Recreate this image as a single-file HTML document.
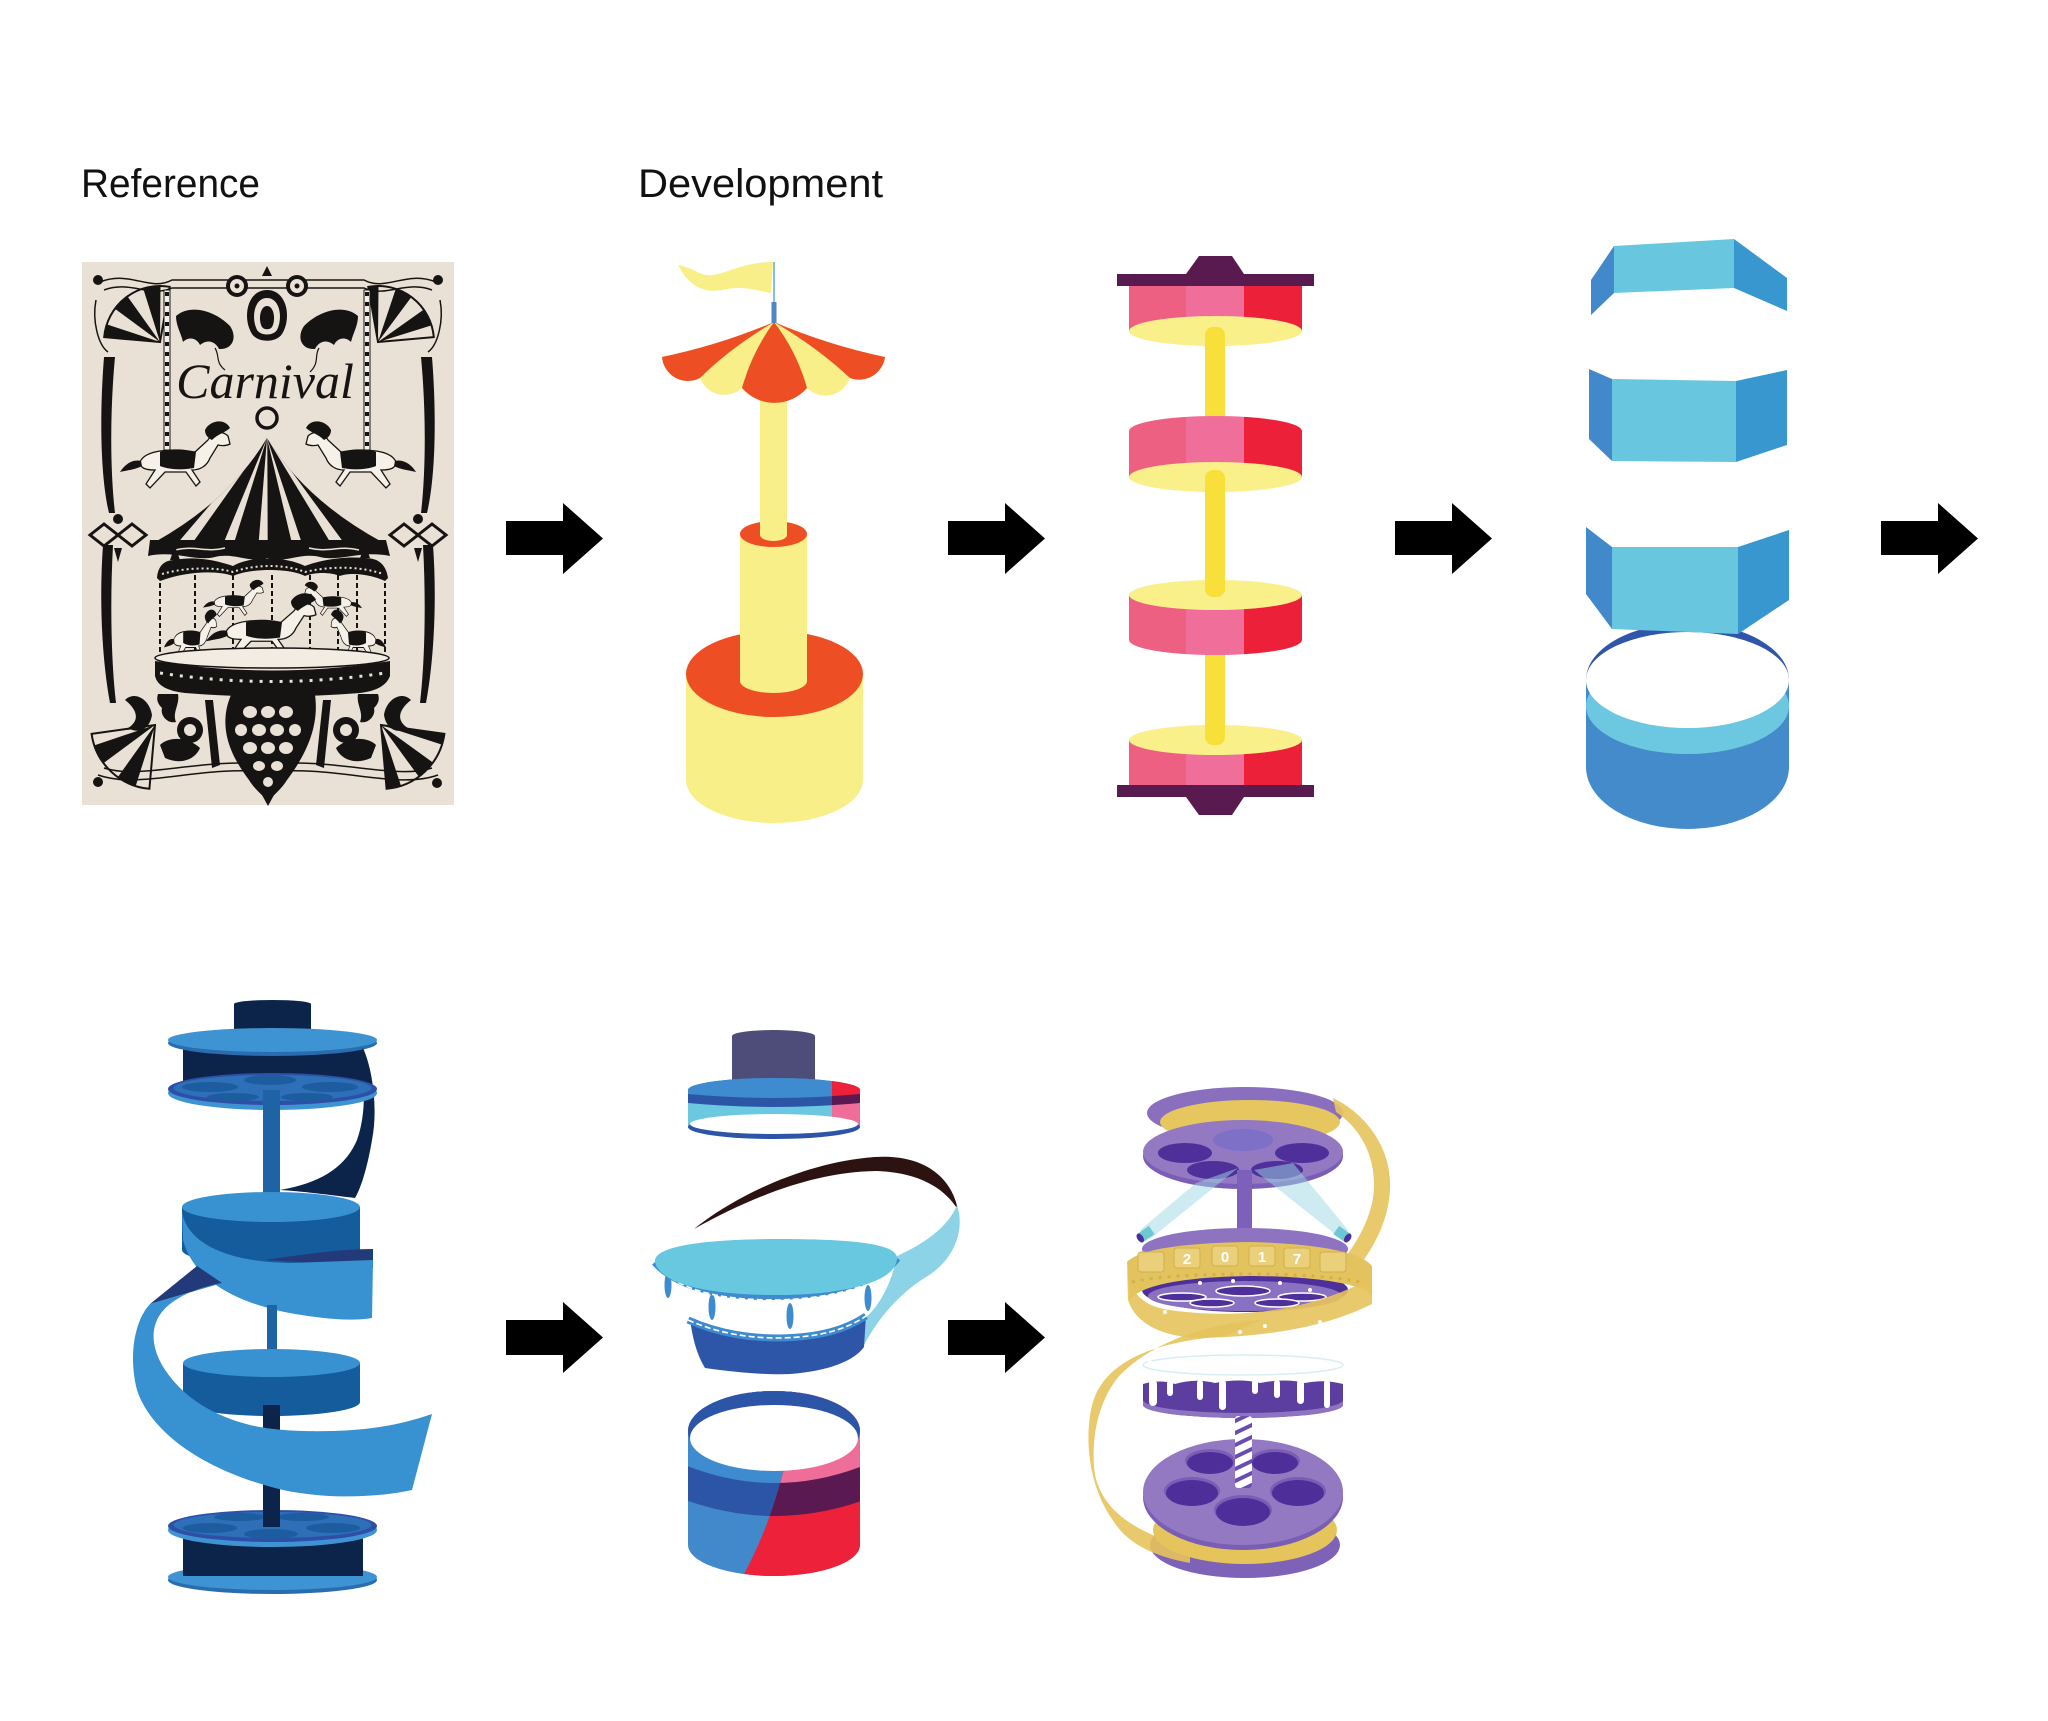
<!DOCTYPE html>
<html><head><meta charset="utf-8"><style>
html,body{margin:0;padding:0;background:#fff;}
svg{display:block;}
</style></head><body>
<svg width="2048" height="1721" viewBox="0 0 2048 1721" xmlns="http://www.w3.org/2000/svg">
<defs>
<linearGradient id="pk" gradientUnits="userSpaceOnUse" x1="1129" y1="0" x2="1302" y2="0">
<stop offset="0.33" stop-color="#EE6082"/><stop offset="0.33" stop-color="#EF6E9A"/>
<stop offset="0.665" stop-color="#EF6E9A"/><stop offset="0.665" stop-color="#EC2139"/>
</linearGradient>
<clipPath id="f1"><path d="M160,342 L104.2,337.1 A56,56 0 0 1 169.7,286.8 Z"/></clipPath>
<clipPath id="f2"><path d="M378,342 L368.3,286.8 A56,56 0 0 1 433.8,337.1 Z"/></clipPath>
<clipPath id="f3"><path d="M155,725 L149.4,788.8 A64,64 0 0 1 91.6,733.9 Z"/></clipPath>
<clipPath id="f4"><path d="M381,725 L444.4,733.9 A64,64 0 0 1 386.6,788.8 Z"/></clipPath>
<clipPath id="tent"><path d="M267,438 Q230,500 155,542 L382,542 Q305,500 267,438 Z"/></clipPath>
<clipPath id="ring1"><path d="M688,1090 A86,12 0 0 1 860,1090 L860,1128 L688,1128 Z"/></clipPath>
<clipPath id="ring1r"><rect x="832" y="1060" width="40" height="90"/></clipPath>
<clipPath id="cyl2"><path d="M688,1431 A86,40 0 0 1 860,1431 L860,1545 A86,31 0 0 1 688,1545 Z"/></clipPath>
<clipPath id="cyl2r"><path d="M790,1380 L880,1380 L880,1610 L724,1610 C750,1565 775,1520 790,1440 Z"/></clipPath>
<clipPath id="candy"><rect x="1235" y="1416" width="17" height="72" rx="3"/></clipPath>
<g id="horse">
<path d="M20,44 C25,32 50,30 75,34 L88,22 C92,14 102,12 108,18 L110,26 C106,28 102,28 98,27 L90,40 C87,48 80,52 72,52 L80,64 L76,68 L66,54 L45,54 L30,70 L26,66 L35,52 C25,52 20,50 20,44 Z" fill="#F5F0E8" stroke="#161412" stroke-width="1.3"/>
<path d="M85,12 C90,2 105,0 110,10 C106,14 98,16 92,22 C88,20 85,17 85,12 Z" fill="#161412"/>
<path d="M40,34 C50,30 65,31 76,34 L74,50 C63,52 50,52 40,48 Z" fill="#161412"/>
<path d="M21,43 C13,41 5,46 0,54 C8,52 14,52 22,48 Z" fill="#161412"/>
</g>
</defs>
<rect width="2048" height="1721" fill="#fff"/>

<text x="81" y="197" font-family="Liberation Sans, sans-serif" font-size="40" fill="#111" textLength="179" lengthAdjust="spacingAndGlyphs">Reference</text>
<text x="638" y="197" font-family="Liberation Sans, sans-serif" font-size="40" fill="#111" textLength="245" lengthAdjust="spacingAndGlyphs">Development</text>

<!-- arrows -->
<g fill="#000">
<polygon points="506,521 563,521 563,503 603,538.5 563,574 563,555 506,555"/>
<polygon points="948,521 1005,521 1005,503 1045,538.5 1005,574 1005,555 948,555"/>
<polygon points="1395,521 1452,521 1452,503 1492,538.5 1452,574 1452,555 1395,555"/>
<polygon points="1881,521 1938,521 1938,503 1978,538.5 1938,574 1938,555 1881,555"/>
<polygon points="506,1320 563,1320 563,1302 603,1337.5 563,1373 563,1355 506,1355"/>
<polygon points="948,1320 1005,1320 1005,1302 1045,1337.5 1005,1373 1005,1355 948,1355"/>
</g>

<!-- POSTER -->
<g>
<rect x="82" y="262" width="372" height="543" fill="#EAE1D6"/>
<g fill="none" stroke="#161412" stroke-width="1.5">
<path d="M100,282 C130,270 150,292 172,280 L364,280 C386,292 406,270 436,282"/>
<path d="M104,290 C130,280 150,298 172,288 L364,288 C386,298 406,280 432,290"/>
<path d="M98,775 C140,790 200,765 268,772 C336,765 396,790 438,775"/>
<path d="M104,768 C140,780 200,758 268,764 C336,758 396,780 432,768"/>
<path d="M96,300 C92,320 98,345 108,352"/>
<path d="M440,300 C444,320 438,345 428,352"/>
</g>
<circle cx="160" cy="342" r="28" fill="none" stroke="#161412" stroke-width="56" stroke-dasharray="8.8 8.8" clip-path="url(#f1)"/>
<circle cx="378" cy="342" r="28" fill="none" stroke="#161412" stroke-width="56" stroke-dasharray="8.8 8.8" clip-path="url(#f2)"/>
<circle cx="155" cy="725" r="32" fill="none" stroke="#161412" stroke-width="64" stroke-dasharray="10 10" clip-path="url(#f3)"/>
<circle cx="381" cy="725" r="32" fill="none" stroke="#161412" stroke-width="64" stroke-dasharray="10 10" clip-path="url(#f4)"/>
<g fill="none" stroke="#161412" stroke-width="2">
<path d="M160,342 L104.2,337.1 A56,56 0 0 1 169.7,286.8 Z"/>
<path d="M378,342 L368.3,286.8 A56,56 0 0 1 433.8,337.1 Z"/>
<path d="M155,725 L149.4,788.8 A64,64 0 0 1 91.6,733.9 Z"/>
<path d="M381,725 L444.4,733.9 A64,64 0 0 1 386.6,788.8 Z"/>
</g>
<g fill="#161412">
<circle cx="98" cy="280" r="5"/><circle cx="438" cy="280" r="5"/>
<circle cx="98" cy="782" r="5"/><circle cx="437" cy="783" r="5"/>
<circle cx="237" cy="286" r="11"/><circle cx="297" cy="286" r="11"/>
<path d="M262,276 L267,266 L272,276 Z"/>
<path d="M267,290 C287,290 292,318 282,334 C276,343 258,343 252,334 C242,318 247,290 267,290 Z"/>
<path d="M176,316 C190,304 214,310 230,326 C238,338 232,350 219,349 C215,341 207,339 200,345 C196,337 188,337 183,342 C181,333 176,326 176,316 Z"/>
<path d="M358,316 C344,304 320,310 304,326 C296,338 302,350 315,349 C319,341 327,339 334,345 C338,337 346,337 351,342 C353,333 358,326 358,316 Z"/>
<circle cx="229" cy="341" r="3"/><circle cx="305" cy="341" r="3"/>
<path d="M104,357 C99,420 101,480 109,513 L115,513 C110,470 110,410 115,357 Z"/>
<path d="M432,357 C437,420 435,480 427,513 L421,513 C426,470 426,410 421,357 Z"/>
<path d="M103,545 C99,600 102,660 110,703 L116,703 C111,660 110,600 113,545 Z"/>
<path d="M433,545 C437,600 434,660 426,703 L420,703 C425,660 426,600 423,545 Z"/>
<circle cx="118" cy="519" r="5"/><circle cx="418" cy="519" r="5"/>
<path d="M114,548 L122,548 L118,562 Z"/><path d="M414,548 L422,548 L418,562 Z"/>
</g>
<g fill="#EAE1D6">
<circle cx="237" cy="286" r="7"/><circle cx="297" cy="286" r="7"/>
<path d="M267,298 C280,298 283,318 277,330 C273,336 261,336 257,330 C251,318 254,298 267,298 Z"/>
</g>
<g fill="#161412">
<circle cx="237" cy="286" r="2.5"/><circle cx="297" cy="286" r="2.5"/>
<path d="M267,306 C274,306 276,320 272,327 C270,330 264,330 262,327 C258,320 260,306 267,306 Z"/>
</g>
<g fill="none" stroke="#161412" stroke-width="3">
<path d="M90,535 L104,524 L118,535 L104,546 Z M118,535 L132,524 L146,535 L132,546 Z"/>
<path d="M390,535 L404,524 L418,535 L404,546 Z M418,535 L432,524 L446,535 L432,546 Z"/>
</g>
<!-- poles -->
<rect x="164" y="290" width="6" height="160" fill="#F5F0E8" stroke="#161412" stroke-width="1"/>
<rect x="364" y="290" width="6" height="160" fill="#F5F0E8" stroke="#161412" stroke-width="1"/>
<line x1="167" y1="292" x2="167" y2="448" stroke="#161412" stroke-width="4" stroke-dasharray="4 6"/>
<line x1="367" y1="292" x2="367" y2="448" stroke="#161412" stroke-width="4" stroke-dasharray="4 6"/>
<g fill="none" stroke="#161412" stroke-width="1.2">
<path d="M215,348 C220,356 215,362 225,370"/><path d="M319,348 C314,356 320,362 310,372"/>
</g>
<text x="265" y="398" text-anchor="middle" font-family="Liberation Serif, serif" font-style="italic" font-size="50" fill="#161412">Carnival</text>
<circle cx="267" cy="418" r="10" fill="none" stroke="#161412" stroke-width="3.5"/>
<use href="#horse" transform="translate(120,418)"/>
<use href="#horse" transform="translate(416,418) scale(-1,1)"/>
<!-- tent -->
<path d="M267,438 Q230,500 155,542 L382,542 Q305,500 267,438 Z" fill="#161412"/>
<circle cx="267" cy="438" r="80" fill="none" stroke="#EAE1D6" stroke-width="160" stroke-dasharray="7 18" clip-path="url(#tent)"/>
<path d="M150,540 L386,540 L390,556 C360,550 340,562 320,557 C300,552 285,564 267,558 C250,564 235,552 215,557 C195,562 175,550 148,556 Z" fill="#161412"/>
<path d="M175,550 C195,545 205,553 225,548 M309,548 C329,553 339,545 359,550" fill="none" stroke="#EAE1D6" stroke-width="1.5"/>
<!-- carousel body -->
<g stroke="#161412" stroke-width="2" stroke-dasharray="5 3">
<line x1="160" y1="575" x2="160" y2="660"/><line x1="195" y1="575" x2="195" y2="660"/>
<line x1="233" y1="575" x2="233" y2="660"/><line x1="272" y1="575" x2="272" y2="660"/>
<line x1="310" y1="575" x2="310" y2="660"/><line x1="338" y1="575" x2="338" y2="660"/>
<line x1="357" y1="575" x2="357" y2="660"/><line x1="385" y1="575" x2="385" y2="660"/>
</g>
<path d="M157,578 C158,565 165,560 175,560 C195,556 215,560 233,566 C250,556 285,556 305,566 C320,560 345,556 365,558 C378,558 386,564 388,578 L385,581 C370,574 350,572 340,576 C330,572 315,572 305,576 C290,568 250,568 233,576 C220,571 190,570 160,581 Z" fill="#161412"/>
<path d="M162,574 C190,566 220,568 233,572 C255,564 285,564 305,572 C330,566 360,566 383,574" fill="none" stroke="#EAE1D6" stroke-width="2" stroke-dasharray="2 3"/>
<g fill="#161412"><path d="M170,560 L175,546 L180,560 Z"/><path d="M360,558 L365,544 L370,558 Z"/><path d="M250,552 C258,540 276,540 284,552 Z"/></g>
<use href="#horse" transform="translate(203,578) scale(0.55)"/>
<use href="#horse" transform="translate(362,580) scale(-0.52,0.52)"/>
<use href="#horse" transform="translate(164,607) scale(0.48,0.75)"/>
<use href="#horse" transform="translate(386,607) scale(-0.5,0.75)"/>
<use href="#horse" transform="translate(206,590) scale(1.0,0.95)"/>
<!-- platform -->
<ellipse cx="272" cy="658" rx="117" ry="10" fill="#F2ECE3" stroke="#161412" stroke-width="1.5"/>
<path d="M155,661 Q272,680 390,661 L390,676 Q385,690 360,693 Q272,700 185,693 Q158,690 155,676 Z" fill="#161412"/>
<path d="M160,673 Q272,690 385,673" fill="none" stroke="#EAE1D6" stroke-width="3" stroke-dasharray="3 7"/>
<!-- base ornaments -->
<g fill="#161412">
<path d="M231,695 L315,695 C320,730 302,760 287,780 C281,790 273,795 268,802 C263,795 255,790 249,780 C234,760 216,730 231,695 Z"/>
<path d="M158,694 L178,694 C180,705 172,712 176,722 C168,724 160,716 162,708 C158,704 156,700 158,694 Z"/>
<path d="M378,694 L358,694 C356,705 364,712 360,722 C368,724 376,716 374,708 C378,704 380,700 378,694 Z"/>
<circle cx="190" cy="730" r="13"/><circle cx="346" cy="730" r="13"/>
<path d="M125,700 C135,690 150,700 152,715 C150,728 140,735 128,728 C138,722 140,712 125,700 Z"/>
<path d="M411,700 C401,690 386,700 384,715 C386,728 396,735 408,728 C398,722 396,712 411,700 Z"/>
<path d="M160,745 C170,735 190,738 200,748 C195,760 180,765 165,758 Z"/>
<path d="M376,745 C366,735 346,738 336,748 C341,760 356,765 371,758 Z"/>
<path d="M205,700 L213,700 L220,765 L212,768 Z"/><path d="M331,700 L323,700 L316,765 L324,768 Z"/>
<path d="M262,795 L274,795 L268,806 Z"/>
</g>
<g fill="#EAE1D6">
<circle cx="190" cy="730" r="6"/><circle cx="346" cy="730" r="6"/>
<ellipse cx="250" cy="712" rx="7" ry="6"/><ellipse cx="268" cy="712" rx="7" ry="6"/><ellipse cx="286" cy="712" rx="7" ry="6"/>
<ellipse cx="241" cy="730" rx="6" ry="6"/><ellipse cx="259" cy="730" rx="7" ry="6"/><ellipse cx="277" cy="730" rx="7" ry="6"/><ellipse cx="295" cy="730" rx="6" ry="6"/>
<ellipse cx="250" cy="748" rx="7" ry="6"/><ellipse cx="268" cy="748" rx="7" ry="6"/><ellipse cx="286" cy="748" rx="7" ry="6"/>
<ellipse cx="259" cy="766" rx="6" ry="5"/><ellipse cx="277" cy="766" rx="6" ry="5"/>
<ellipse cx="268" cy="782" rx="5" ry="5"/>
</g>
</g>

<!-- YELLOW CAROUSEL -->
<g>
<path d="M686,674 L686,780 A88.5,43 0 0 0 863,780 L863,674 Z" fill="#F8EF88"/>
<ellipse cx="774.5" cy="674" rx="88.5" ry="43" fill="#EE4E23"/>
<path d="M740,534 L740,681 A33.5,12 0 0 0 807,681 L807,534 Z" fill="#F8EF88"/>
<ellipse cx="773.5" cy="534" rx="33.5" ry="13" fill="#EE4E23"/>
<path d="M760,390 L760,535 A13.5,6 0 0 0 787,535 L787,390 Z" fill="#F8EF88"/>
<path d="M774,322 Q720,345 662,357 A26,26 0 0 0 700,378 A26,26 0 0 0 742,388 A43,43 0 0 0 807,388 A26,26 0 0 0 850,378 A26,26 0 0 0 885,357 Q828,345 774,322 Z" fill="#F8EF88"/>
<g fill="#EE4E23">
<path d="M774,322 Q720,345 662,357 A26,26 0 0 0 700,378 Q730,348 774,322 Z"/>
<path d="M774,322 Q752,352 742,388 A43,43 0 0 0 807,388 Q797,352 774,322 Z"/>
<path d="M774,322 Q818,348 850,378 A26,26 0 0 0 885,357 Q828,345 774,322 Z"/>
</g>
<path d="M678,265 C695,268 700,277 713,275 C730,272 745,262 773,262 L771,293 C755,290 742,286 727,289 C710,293 692,292 678,265 Z" fill="#F8EF88"/>
<line x1="774" y1="262" x2="774" y2="303" stroke="#6AAFC8" stroke-width="1.6"/>
<rect x="771.5" y="302" width="5" height="21" fill="#4F86C6"/>
</g>

<!-- PINK STACK -->
<g>
<path d="M1129,740 L1302,740 L1302,787 L1129,787 Z" fill="url(#pk)"/>
<ellipse cx="1215.5" cy="740" rx="86.5" ry="15" fill="#F9F08A"/>
<rect x="1205" y="645" width="20" height="100" rx="8" fill="#F9DF3A"/>
<path d="M1129,283 L1302,283 L1302,331 L1129,331 Z" fill="url(#pk)"/>
<ellipse cx="1215.5" cy="331" rx="86.5" ry="15" fill="#F9F08A"/>
<rect x="1205" y="327" width="20" height="100" rx="8" fill="#F9DF3A"/>
<path d="M1129,431 A86.5,15 0 0 1 1302,431 L1302,477 L1129,477 Z" fill="url(#pk)"/>
<ellipse cx="1215.5" cy="477" rx="86.5" ry="15" fill="#F9F08A"/>
<path d="M1129,595 L1302,595 L1302,640 A86.5,15 0 0 1 1129,640 Z" fill="url(#pk)"/>
<ellipse cx="1215.5" cy="595" rx="86.5" ry="15" fill="#F9F08A"/>
<rect x="1205" y="470" width="20" height="127" rx="8" fill="#F9DF3A"/>
<g fill="#581A4F">
<rect x="1117" y="274" width="197" height="12"/>
<polygon points="1186,274 1199,256 1232,256 1244,274"/>
<rect x="1117" y="785" width="197" height="12"/>
<polygon points="1186,797 1244,797 1232,815 1199,815"/>
</g>
</g>

<!-- BLUE PRISM + CYLINDER -->
<g>
<ellipse cx="1687.5" cy="680" rx="101.5" ry="57" fill="#2F56A8"/>
<path d="M1586,680 L1586,767 A101.5,62 0 0 0 1789,767 L1789,680 Z" fill="#438BCB"/>
<ellipse cx="1687.5" cy="706" rx="101.5" ry="48" fill="#6CC8E0"/>
<ellipse cx="1687.5" cy="680" rx="101.5" ry="48" fill="#fff"/>
<polygon points="1591,280 1614,246 1614,293 1591,315" fill="#4189CB"/>
<polygon points="1614,246 1734,239 1734,288 1614,293" fill="#68C7DF"/>
<polygon points="1734,239 1787,278 1787,311 1734,288" fill="#3897CE"/>
<polygon points="1589,369 1612,379 1612,461 1589,439" fill="#4189CB"/>
<polygon points="1612,379 1736,381 1736,462 1612,461" fill="#68C7DF"/>
<polygon points="1736,381 1787,370 1787,445 1736,462" fill="#3897CE"/>
<polygon points="1586,527 1612,547 1612,629 1586,594" fill="#4189CB"/>
<polygon points="1612,547 1738,547 1738,634 1612,629" fill="#68C7DF"/>
<polygon points="1738,547 1789,530 1789,600 1738,634" fill="#3897CE"/>
</g>

<!-- BLUE REEL ROW 2 -->
<g>
<rect x="183" y="1044" width="180" height="42" fill="#0C2449"/>
<path d="M234,1004 A38.5,4 0 0 1 311,1004 L311,1036 L234,1036 Z" fill="#0C2449"/>
<ellipse cx="272.5" cy="1043" rx="104.5" ry="13" fill="#2A6CB0"/>
<ellipse cx="272.5" cy="1040" rx="104.5" ry="12" fill="#3E93D2"/>
<path d="M363,1048 C373,1070 378,1110 372,1140 C367,1170 360,1190 355,1198 C330,1195 300,1191 280,1190 C320,1183 345,1168 357,1140 C366,1115 366,1080 358,1055 Z" fill="#0C2449"/>
<ellipse cx="272.5" cy="1093" rx="104.5" ry="17" fill="#3E93D2"/>
<ellipse cx="272.5" cy="1089" rx="104.5" ry="16" fill="#2D4FA8"/>
<ellipse cx="272.5" cy="1088" rx="99" ry="13" fill="#2E70B8"/>
<g fill="#1D5C9E">
<ellipse cx="270" cy="1080" rx="26" ry="5"/><ellipse cx="210" cy="1087" rx="28" ry="5"/>
<ellipse cx="330" cy="1087" rx="28" ry="5"/><ellipse cx="233" cy="1097" rx="26" ry="4"/>
<ellipse cx="307" cy="1097" rx="26" ry="4"/>
</g>
<rect x="263" y="1090" width="17" height="118" fill="#1E63A5"/>
<path d="M182,1207 L182,1250 A89,15 0 0 0 360,1250 L360,1207 Z" fill="#145C9C"/>
<ellipse cx="271" cy="1207" rx="89" ry="15" fill="#3891D0"/>
<path d="M265,1260 C300,1255 340,1249 373,1249 L373,1268 C340,1265 300,1262 265,1260 Z" fill="#233A7A"/>
<path d="M182,1212 C188,1245 230,1262 290,1263 L373,1260 L372,1318 C350,1322 320,1318 295,1314 C245,1305 195,1285 183,1240 Z" fill="#3891D0"/>
<rect x="267" y="1305" width="10" height="60" fill="#1E63A5"/>
<path d="M183,1363 L183,1402 A88.5,14 0 0 0 360,1402 L360,1363 Z" fill="#145C9C"/>
<ellipse cx="271.5" cy="1363" rx="88.5" ry="14" fill="#3891D0"/>
<!-- bottom reel -->
<ellipse cx="272.5" cy="1580" rx="104.5" ry="14" fill="#2A6CB0"/>
<ellipse cx="272.5" cy="1577" rx="104.5" ry="13" fill="#3E93D2"/>
<rect x="183" y="1528" width="180" height="48" fill="#0C2449"/>
<ellipse cx="272.5" cy="1530" rx="104.5" ry="17" fill="#3E93D2"/>
<ellipse cx="272.5" cy="1526" rx="104.5" ry="16" fill="#2D4FA8"/>
<ellipse cx="272.5" cy="1525" rx="99" ry="13" fill="#2E70B8"/>
<g fill="#1D5C9E">
<ellipse cx="240" cy="1517" rx="26" ry="4"/><ellipse cx="303" cy="1517" rx="26" ry="4"/>
<ellipse cx="210" cy="1528" rx="27" ry="5"/><ellipse cx="333" cy="1528" rx="27" ry="5"/>
<ellipse cx="271" cy="1534" rx="27" ry="5"/>
</g>
<rect x="263" y="1405" width="17" height="122" fill="#0C2449"/>
<path d="M197,1266 L222,1283 L150,1304 Z" fill="#233A7A"/>
<path d="M150,1304 C135,1320 128,1355 137,1390 C150,1430 200,1470 283,1490 C330,1500 380,1497 412,1490 L432,1414 C400,1425 370,1430 333,1431 C300,1432 270,1430 250,1425 C210,1415 180,1395 162,1365 C148,1340 152,1318 170,1304 C183,1294 200,1287 222,1283 Z" fill="#3891D0"/>
</g>

<!-- MIDDLE STACK ROW 2 -->
<g>
<path d="M732,1036 L732,1080 L815,1080 L815,1036 A41.5,6 0 0 0 732,1036 Z" fill="#4E4C78"/>
<g clip-path="url(#ring1)">
<rect x="688" y="1070" width="172" height="70" fill="#6CC8E0"/>
<path d="M688,1060 L860,1060 L860,1103 Q774,1111 688,1103 Z" fill="#2D55A7"/>
<path d="M688,1060 L860,1060 L860,1094 Q774,1102 688,1094 Z" fill="#3F8BCF"/>
<g clip-path="url(#ring1r)">
<rect x="688" y="1070" width="172" height="70" fill="#EF6E99"/>
<path d="M688,1060 L860,1060 L860,1103 Q774,1111 688,1103 Z" fill="#5A1950"/>
<path d="M688,1060 L860,1060 L860,1094 Q774,1102 688,1094 Z" fill="#ED2139"/>
</g>
</g>
<ellipse cx="774" cy="1127" rx="86" ry="12" fill="#2D55A7"/>
<ellipse cx="774" cy="1124" rx="84" ry="10" fill="#fff"/>
<path d="M694,1229 C735,1196 805,1162 875,1157 C925,1154 952,1178 958,1210 C945,1188 918,1172 876,1171 C812,1172 750,1198 694,1229 Z" fill="#2C1210"/>
<path d="M957,1205 C966,1232 952,1262 926,1277 C900,1293 878,1318 863,1347 L866,1300 L893,1258 C922,1245 948,1228 957,1205 Z" fill="#8DD3E7"/>
<path d="M690,1318 C693,1345 700,1360 705,1368 C740,1373 770,1375 790,1374 C830,1371 855,1360 864,1347 L866,1315 Z" fill="#2E56A8"/>
<path d="M655,1262 C680,1290 730,1297 776,1296 C830,1295 880,1282 897,1258 L892,1275 C885,1295 875,1310 865,1318 C845,1330 820,1337 780,1338 C750,1338 720,1334 690,1322 C675,1305 662,1285 655,1262 Z" fill="#fff"/>
<g fill="#3F8BCF">
<ellipse cx="668" cy="1285" rx="3.5" ry="13"/><ellipse cx="712" cy="1307" rx="3.5" ry="13"/>
<ellipse cx="790" cy="1316" rx="3.5" ry="13"/><ellipse cx="868" cy="1298" rx="3.5" ry="13"/>
</g>
<path d="M655,1262 C680,1290 730,1297 776,1296 C830,1295 880,1282 897,1258" fill="none" stroke="#3F8BCF" stroke-width="8"/>
<path d="M657,1266 C682,1294 730,1300 776,1300 C830,1299 880,1286 895,1263" fill="none" stroke="#fff" stroke-width="1.6" stroke-dasharray="6 3"/>
<path d="M688,1320 C720,1334 750,1338 780,1338 C820,1337 845,1330 866,1316" fill="none" stroke="#3F8BCF" stroke-width="7"/>
<path d="M688,1320 C720,1334 750,1338 780,1338 C820,1337 845,1330 866,1316" fill="none" stroke="#fff" stroke-width="1.6" stroke-dasharray="6 3"/>
<path d="M655,1262 C652,1244 720,1239 776,1239 C840,1239 897,1242 897,1258 C897,1283 840,1295 776,1295 C712,1295 660,1285 655,1262 Z" fill="#68C8E0"/>
<!-- bottom cylinder -->
<g clip-path="url(#cyl2)">
<rect x="680" y="1380" width="190" height="230" fill="#4189CB"/>
<path d="M680,1380 L870,1380 L870,1498 Q774,1534 680,1498 Z" fill="#2D55A7"/>
<path d="M680,1380 L870,1380 L870,1463 Q774,1503 680,1463 Z" fill="#3F8BCF"/>
<g clip-path="url(#cyl2r)">
<rect x="680" y="1380" width="190" height="230" fill="#ED2139"/>
<path d="M680,1380 L870,1380 L870,1498 Q774,1534 680,1498 Z" fill="#5A1950"/>
<path d="M680,1380 L870,1380 L870,1463 Q774,1503 680,1463 Z" fill="#EF6E99"/>
</g>
</g>
<ellipse cx="774" cy="1431" rx="86" ry="40" fill="#2D55A7"/>
<ellipse cx="774" cy="1438" rx="84" ry="33" fill="#fff"/>
</g>

<!-- PURPLE FINAL -->
<g>
<ellipse cx="1245" cy="1113" rx="98" ry="26" fill="#8A6FBF"/>
<ellipse cx="1250" cy="1122" rx="90" ry="22" fill="#E5C65F"/>
<path d="M1333,1098 C1368,1115 1392,1150 1390,1190 C1388,1225 1370,1255 1350,1277 L1340,1264 C1358,1242 1373,1215 1374,1188 C1375,1155 1360,1128 1336,1112 Z" fill="#E6C45E" opacity="0.92"/>
<ellipse cx="1243" cy="1156" rx="100" ry="33" fill="#7A5EB6"/>
<ellipse cx="1243" cy="1152" rx="100" ry="32" fill="#9279C2"/>
<g fill="#4F309B">
<ellipse cx="1243" cy="1140" rx="30" ry="11" fill="#7E70C6"/>
<ellipse cx="1185" cy="1153" rx="27" ry="10"/><ellipse cx="1302" cy="1153" rx="27" ry="10"/>
<ellipse cx="1213" cy="1170" rx="26" ry="9"/><ellipse cx="1277" cy="1170" rx="26" ry="9"/>
</g>
<polygon points="1196,1183 1238,1168 1150,1239 1140,1230" fill="#9ED8E5" opacity="0.5"/>
<polygon points="1254,1170 1293,1163 1348,1230 1340,1238" fill="#9ED8E5" opacity="0.5"/>
<rect x="1237" y="1170" width="15" height="62" fill="#7D60B9"/>
<g transform="translate(1146,1234) rotate(-35)"><rect x="-7" y="-5" width="14" height="10" fill="#6CC8D4"/><ellipse cx="-7" cy="0" rx="3" ry="5" fill="#4E2F9A"/></g>
<g transform="translate(1342,1234) rotate(35)"><rect x="-7" y="-5" width="14" height="10" fill="#6CC8D4"/><ellipse cx="7" cy="0" rx="3" ry="5" fill="#4E2F9A"/></g>
<ellipse cx="1245" cy="1290" rx="103" ry="22" fill="#4F309B"/>
<ellipse cx="1245" cy="1296" rx="97" ry="15" fill="#8A70C0"/>
<g fill="#4F309B" stroke="#fff" stroke-width="1.5">
<ellipse cx="1243" cy="1291" rx="27" ry="5"/><ellipse cx="1182" cy="1297" rx="24" ry="4"/>
<ellipse cx="1302" cy="1297" rx="24" ry="4"/><ellipse cx="1212" cy="1303" rx="22" ry="4"/>
<ellipse cx="1277" cy="1303" rx="22" ry="4"/>
</g>
<ellipse cx="1245" cy="1249" rx="103" ry="21" fill="#8E74C0"/>
<path d="M1127,1262 C1140,1248 1190,1243 1248,1242 C1305,1243 1360,1250 1372,1266 L1372,1295 C1360,1283 1310,1276 1248,1276 C1185,1277 1140,1285 1130,1300 Z" fill="#E3C35E"/>
<g fill="#EBD07C" stroke="#D2B04A" stroke-width="1">
<rect x="1138" y="1252" width="26" height="20" rx="3"/><rect x="1174" y="1248" width="26" height="20" rx="3"/>
<rect x="1212" y="1246" width="26" height="20" rx="3"/><rect x="1249" y="1246" width="26" height="20" rx="3"/>
<rect x="1284" y="1248" width="26" height="20" rx="3"/><rect x="1320" y="1252" width="26" height="20" rx="3"/>
</g>
<g font-family="Liberation Sans, sans-serif" font-size="15" font-weight="bold" fill="#fff" text-anchor="middle">
<text x="1187" y="1264">2</text><text x="1225" y="1262">0</text><text x="1262" y="1262">1</text><text x="1297" y="1264">7</text>
</g>
<path d="M1132,1282 C1170,1272 1320,1270 1368,1284" fill="none" stroke="#D2B04A" stroke-width="3" stroke-dasharray="3 6"/>
<!-- front crossing ribbon -->
<path d="M1127,1262 C1128,1290 1140,1306 1170,1310 C1225,1318 1300,1316 1372,1278 L1372,1304 C1320,1330 1260,1336 1205,1338 C1160,1338 1135,1322 1128,1300 Z" fill="#E5C35C" opacity="0.9"/>
<g fill="#fff">
<circle cx="1125" cy="1290" r="2"/><circle cx="1200" cy="1283" r="2"/><circle cx="1233" cy="1281" r="2"/>
<circle cx="1310" cy="1290" r="2"/><circle cx="1280" cy="1283" r="2"/>
<circle cx="1165" cy="1312" r="2"/><circle cx="1265" cy="1326" r="2"/><circle cx="1320" cy="1322" r="2"/>
</g>
<!-- drip disk -->
<ellipse cx="1243" cy="1365" rx="100" ry="10" fill="none" stroke="#D8EEF2" stroke-width="1.5"/>
<path d="M1143,1384 Q1160,1379 1175,1384 Q1195,1378 1215,1383 Q1240,1378 1260,1383 Q1285,1378 1305,1383 Q1325,1379 1343,1384 L1343,1405 A100,13 0 0 1 1143,1405 Z" fill="#5B3EA0"/>
<path d="M1143,1400 A100,13 0 0 0 1343,1400 L1343,1405 A100,13 0 0 1 1143,1405 Z" fill="#8E74C0"/>
<g fill="#fff">
<rect x="1149" y="1380" width="8" height="26" rx="4"/><rect x="1167" y="1380" width="6" height="16" rx="3"/>
<rect x="1197" y="1380" width="6" height="20" rx="3"/><rect x="1219" y="1380" width="7" height="30" rx="3.5"/>
<rect x="1252" y="1380" width="6" height="14" rx="3"/><rect x="1274" y="1380" width="6" height="18" rx="3"/>
<rect x="1297" y="1380" width="7" height="24" rx="3.5"/><rect x="1324" y="1380" width="6" height="28" rx="3"/>
</g>
<!-- bottom reel -->
<ellipse cx="1245" cy="1545" rx="95" ry="33" fill="#7D62B8"/>
<ellipse cx="1245" cy="1530" rx="92" ry="34" fill="#E5C45C"/>
<ellipse cx="1243" cy="1497" rx="100" ry="53" fill="#7A5EB6"/>
<ellipse cx="1243" cy="1492" rx="100" ry="53" fill="#9279C2"/>
<g fill="#7A5EB6">
<ellipse cx="1210" cy="1461" rx="25" ry="12"/><ellipse cx="1275" cy="1461" rx="25" ry="12"/>
<ellipse cx="1192" cy="1491" rx="28" ry="14"/><ellipse cx="1298" cy="1491" rx="28" ry="14"/>
<ellipse cx="1243" cy="1510" rx="29" ry="15"/>
</g>
<g fill="#4E2F9A">
<ellipse cx="1210" cy="1463" rx="23" ry="11"/><ellipse cx="1275" cy="1463" rx="23" ry="11"/>
<ellipse cx="1192" cy="1493" rx="26" ry="13"/><ellipse cx="1298" cy="1493" rx="26" ry="13"/>
<ellipse cx="1243" cy="1512" rx="27" ry="14"/>
</g>
<g clip-path="url(#candy)">
<rect x="1235" y="1416" width="17" height="72" fill="#fff"/>
<g stroke="#6A4DB0" stroke-width="4">
<line x1="1233" y1="1422" x2="1254" y2="1412"/><line x1="1233" y1="1434" x2="1254" y2="1424"/>
<line x1="1233" y1="1446" x2="1254" y2="1436"/><line x1="1233" y1="1458" x2="1254" y2="1448"/>
<line x1="1233" y1="1470" x2="1254" y2="1460"/><line x1="1233" y1="1482" x2="1254" y2="1472"/>
<line x1="1233" y1="1494" x2="1254" y2="1484"/>
</g>
</g>
<!-- big sweep ribbon -->
<path d="M1262,1320 C1200,1324 1150,1345 1120,1375 C1098,1400 1090,1440 1095,1475 C1102,1505 1125,1530 1190,1548 L1190,1563 C1150,1556 1125,1541 1112,1519 C1089,1486 1084,1440 1092,1405 C1102,1368 1140,1343 1225,1336 Z" fill="#E5C35C" opacity="0.9"/>
<g fill="#fff">
<circle cx="1200" cy="1345" r="2"/><circle cx="1150" cy="1362" r="2"/><circle cx="1240" cy="1332" r="2"/>
</g>
</g>
</svg>
</body></html>
